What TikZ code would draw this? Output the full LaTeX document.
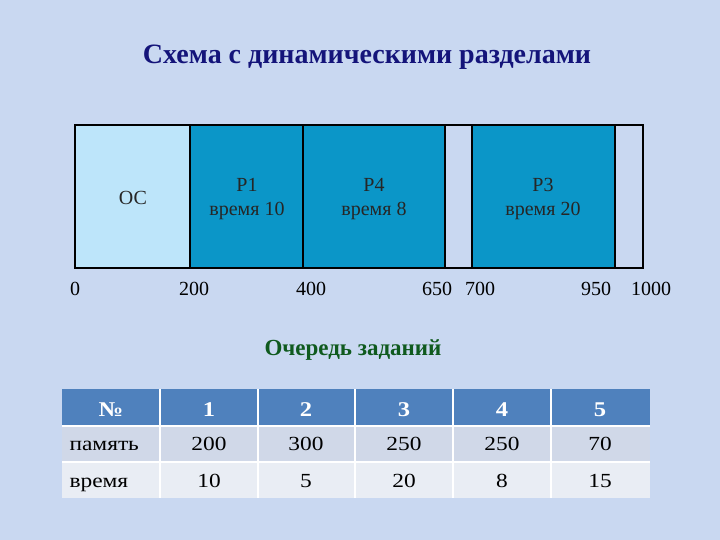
\documentclass[tikz,border=0pt]{standalone}
\usepackage{fontspec}
\setmainfont{Liberation Serif}
\newfontfamily\tabfont{Liberation Serif}[FakeStretch=1.17]
\definecolor{bg}{HTML}{C9D8F1}
\definecolor{oscol}{HTML}{BDE5FA}
\definecolor{pcol}{HTML}{0B96C8}
\definecolor{titlecol}{HTML}{14147A}
\definecolor{qcol}{HTML}{0F5A1E}
\definecolor{hdr}{HTML}{4F81BD}
\definecolor{rowa}{HTML}{D0D8E8}
\definecolor{rowb}{HTML}{E9EDF4}
\begin{document}
\begin{tikzpicture}[x=1pt,y=-1pt,
  mem/.style={draw=black,line width=1.6pt},
  btxt/.style={font=\fontsize{20}{23}\selectfont,text=black!85,anchor=base},
  lbl/.style={font=\fontsize{20}{23}\selectfont,anchor=base},
  cell/.style={font=\tabfont\fontsize{20}{23}\selectfont,anchor=base},
  hcell/.style={font=\tabfont\fontsize{21}{24}\selectfont\bfseries,text=white,anchor=base}]
\fill[bg] (0,0) rectangle (720,540);
\useasboundingbox (0,0) rectangle (720,540);
\node[font=\fontsize{28}{32}\selectfont\bfseries,text=titlecol,anchor=base] (title) at (367,64) {Схема с динамическими разделами};
% memory bar
\fill[oscol] (75,125) rectangle (190,268);
\fill[pcol] (190,125) rectangle (445,268);
\fill[pcol] (472,125) rectangle (615,268);
\draw[mem] (75,125) rectangle (643,268);
\foreach \x in {190,303,445,472,615} \draw[mem] (\x,125) -- (\x,268);
\node[btxt] (os) at (133,205) {ОС};
\node[btxt] (p1) at (247,192) {Р1};
\node[btxt] (p1t) at (247,215) {время 10};
\node[btxt] (p4) at (374,192) {Р4};
\node[btxt] (p4t) at (374,215) {время 8};
\node[btxt] (p3) at (543,192) {Р3};
\node[btxt] (p3t) at (543,215) {время 20};
\node[lbl] (l0) at (75,295) {0};
\node[lbl] (l200) at (194,295) {200};
\node[lbl] (l400) at (311,295) {400};
\node[lbl] (l650) at (437,295) {650};
\node[lbl] (l700) at (480,295) {700};
\node[lbl] (l950) at (596,295) {950};
\node[lbl] (l1000) at (651,295) {1000};
\node[font=\fontsize{23}{26}\selectfont\bfseries,text=qcol,anchor=base] (queue) at (353,355) {Очередь заданий};
% table
\fill[hdr] (62,389) rectangle (650,426);
\fill[rowa] (62,426) rectangle (650,462);
\fill[rowb] (62,462) rectangle (650,498);
\draw[white,line width=1.5pt] (62,426) -- (650,426) (62,462) -- (650,462);
\foreach \x in {160,258,355,453,551} \draw[white,line width=1.2pt] (\x,389) -- (\x,498);
\node[hcell] (h0) at (111,416) {№};
\node[hcell] (h1) at (209,416) {1};
\node[hcell] (h2) at (306,416) {2};
\node[hcell] (h3) at (404,416) {3};
\node[hcell] (h4) at (502,416) {4};
\node[hcell] (h5) at (600,416) {5};
\node[cell,anchor=base west] (r1) at (66,450) {память};
\node[cell] (a1) at (209,450) {200};
\node[cell] (a2) at (306,450) {300};
\node[cell] (a3) at (404,450) {250};
\node[cell] (a4) at (502,450) {250};
\node[cell] (a5) at (600,450) {70};
\node[cell,anchor=base west] (r2) at (66,487) {время};
\node[cell] (b1) at (209,487) {10};
\node[cell] (b2) at (306,487) {5};
\node[cell] (b3) at (404,487) {20};
\node[cell] (b4) at (502,487) {8};
\node[cell] (b5) at (600,487) {15};
\end{tikzpicture}
\end{document}
